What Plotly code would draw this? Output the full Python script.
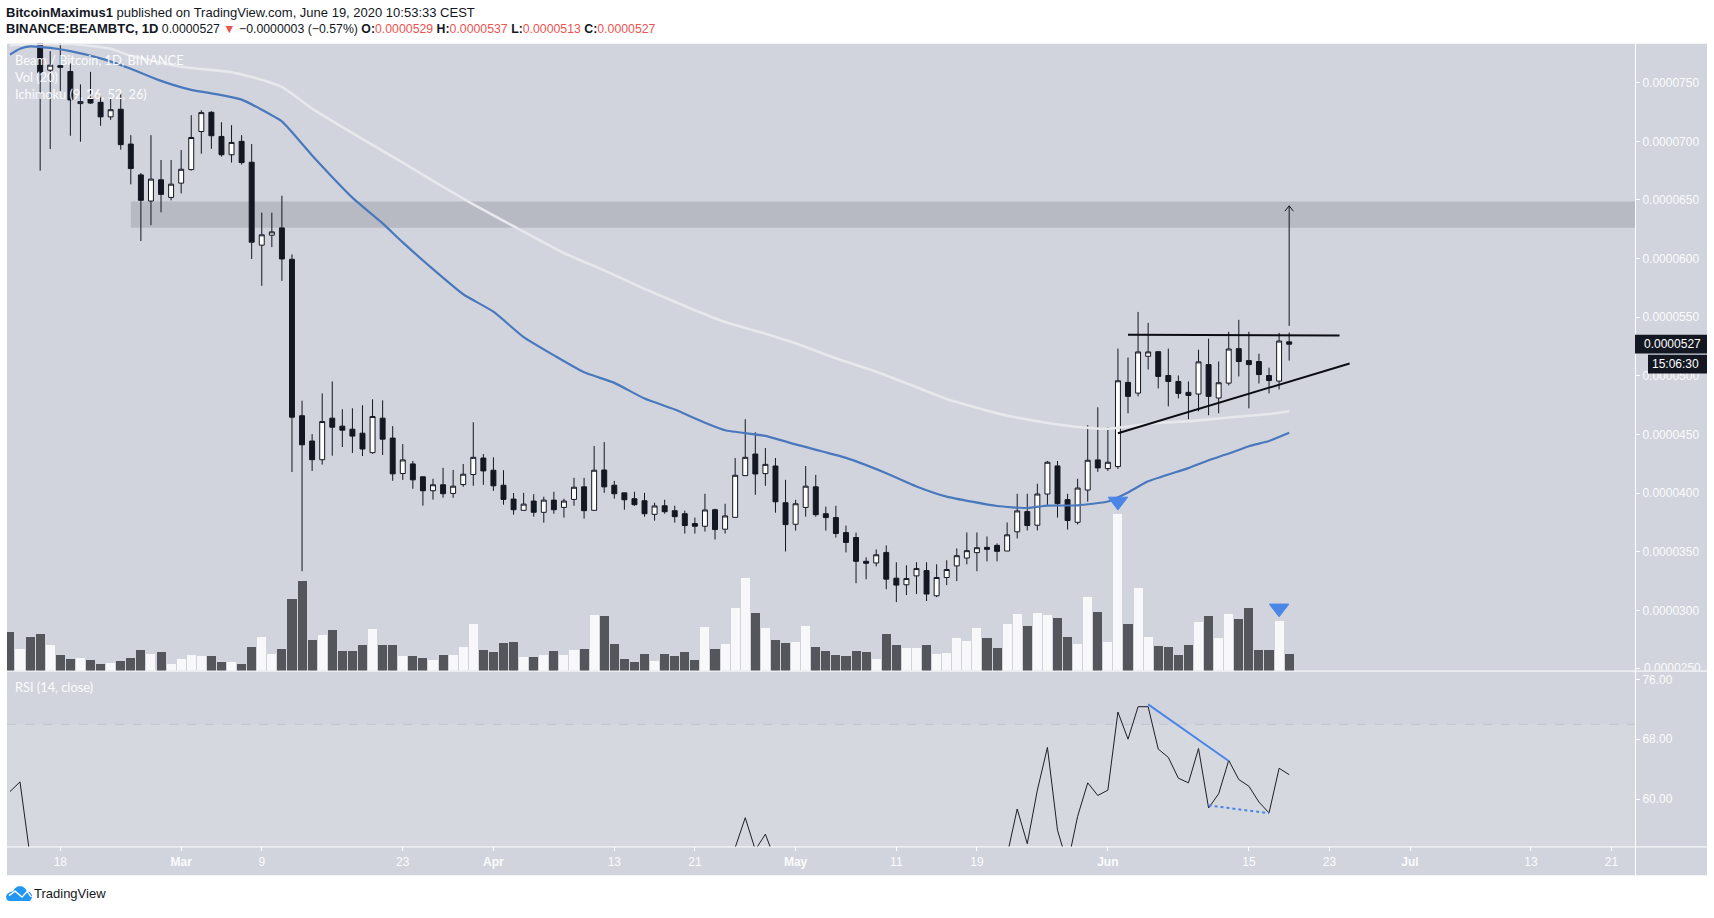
import pandas as pd
import plotly.graph_objects as go

W, H = 1714, 918

# All prices are in units of 1e-7 BTC
dates = pd.date_range("2020-02-13", "2020-06-19", freq="D").strftime("%Y-%m-%d").tolist()

opens = [
    860, 850, 870, 815, 760.7, 764.6, 759.6, 732.2, 736.7, 733.3, 720.9, 727.4, 697.7, 671.4, 649.1, 667.2, 652.2,
    664.4, 675.9, 708.4, 724.8, 704.2, 688.6, 700, 682.2, 611.5, 620, 626.2, 599.4, 466, 444.4, 428.5, 463.9, 457.1,
    454.5, 451.1, 434.5, 463.9, 446.9, 416.7, 424.9, 413.9, 402, 407.1, 399.7, 407.3, 415.8, 429.9,
    419.5, 406.7, 394.9, 385.3, 393.2, 383.6, 394, 387.8, 394.6, 405.3, 385.3, 419.7, 406.7, 400.2, 395.2, 393.5,
    381.9, 389.2, 385, 382.4, 374, 371.7, 385.8, 369.2, 379.3, 414.9, 433.3, 416.6, 423.1, 391.8,
    373.4, 387.8, 405.3, 382.4, 379.1, 366.3, 362.1, 341.8, 340.4, 349.4, 327.4, 321.8, 329.4, 333.9, 312.4, 328,
    337.9, 344.6, 349.2, 353.7, 355.4, 350.6, 367, 384.2, 372.6, 399.2, 423.2, 394.4, 375.1, 402.6, 428.3,
    420.9, 422.6, 494.4, 485.3, 516.7, 520.6, 500.3, 495.2, 485.9, 484.5, 509.6, 481.1, 493.8, 523.2, 513, 512.2,
    500.3, 495.5, 529,
]
closes = [
    850, 870, 815, 758.5, 765, 763.2, 735.3, 733.9, 732.7, 720.9, 727, 697.2, 676.8, 649.7, 667.8, 654.8, 663.5,
    676.2, 703.3, 724.5, 704.8, 688.6, 699.1, 681.9, 614, 620.3, 622.8, 599.7, 464.7, 441.2, 428.5, 461, 456.2, 453.7,
    448.6, 437.6, 465.3, 446, 416.4, 428.3, 411.3, 402, 407.1, 399.5, 405.9, 416.1, 430.5, 418.9,
    406.2, 394.6, 385.8, 390.6, 383.6, 394, 385.8, 393.2, 405, 385, 419.5, 405.3, 399.4, 394.3, 390.1, 382.4,
    389, 384.1, 379.9, 372.3, 371.7, 385.6, 368.9, 380.5, 415.2, 430.5, 416.3, 424.5, 392.6, 373.1,
    390.9, 405.9, 381.6, 379.1, 365.5, 357.9, 341.8, 340.1, 347.4, 326.6, 321.5, 327.1, 335.6, 313.9, 328, 334.8,
    346.6, 350.9, 353.4, 352, 350.3, 364.4, 384.8, 372.3, 399.2, 426.3, 391, 376.6, 404.3, 428, 421.5,
    426.3, 495.8, 482.5, 520.4, 520.4, 499.5, 495.2, 485, 483.3, 511.9, 482.5, 494.1, 522.9, 512.2, 509.6, 501.1,
    496, 529.7, 527,
]
highs = [
    880, 890, 890, 830, 777, 790, 766.4, 748.6, 759.3, 739.2, 736.4, 740.7, 705.3, 673, 705.3, 684.1, 684.1,
    692.6, 722.3, 726.5, 725.7, 716.3, 713.8, 705.3, 697.7, 639.2, 639.2, 653.6, 603.6, 478.8, 450.3, 485, 495.2, 471.5,
    472.3, 474.9, 480, 479.1, 457.1, 441.8, 427.4, 414, 412.2, 421.5, 419.7, 424.8, 460.4, 433.3,
    430.5, 419.5, 400, 400.2, 399.1, 396.9, 401.1, 395.2, 413, 413, 440.1, 443.5, 410.4, 400.2, 401.1, 400.2,
    391.8, 394.3, 389.2, 385, 379.1, 399.4, 386.7, 390.9, 429.9, 463, 451.9, 438.4, 429.9, 411.3,
    394.3, 423.1, 415.5, 388.4, 389.2, 372.3, 366.3, 345.2, 351.9, 355.3, 341, 338.4, 341, 341, 339.3, 342.7,
    352.8, 366.4, 366.4, 363, 357.1, 374.9, 399.4, 399.4, 407.9, 427.4, 427.4, 399.4, 412.2, 457.9, 473.2,
    456.2, 523.2, 515.6, 554.5, 545.2, 521.2, 523.2, 500.3, 495.2, 522.3, 531.7, 512.2, 537.6, 547.8, 537.6, 518.9,
    507, 536.7, 537,
]
lows = [
    810, 820, 810, 675, 693.5, 743, 704.8, 699.7, 732, 713.3, 718.3, 692.9, 663.3, 615, 628.5, 639.5, 649.7,
    655.6, 675.1, 689.5, 693.7, 687, 681.9, 680.2, 599.7, 576.8, 609.8, 581, 418, 333.4, 418.9, 424.3, 431.9, 439.3,
    434.2, 431.6, 433.6, 432.5, 410.5, 411.3, 403.7, 389.3, 394.4, 396.1, 396, 405.3, 406.2, 407,
    401.9, 390.1, 381.6, 385.3, 379.9, 374.8, 382.4, 379.1, 389.2, 378.2, 385.3, 400.2, 395.2, 385.8, 389.2, 379.9,
    376.5, 382.4, 374.8, 365.5, 365.5, 367.2, 360.4, 365.5, 379.3, 414.9, 398.5, 406.2, 383.3, 350.2,
    368, 379.9, 379.9, 368, 362.1, 349.4, 323.1, 326.5, 337.5, 318, 307, 313, 313.9, 307.9, 311.3, 321.5,
    324.9, 339.3, 333.4, 341.8, 341.8, 350.6, 361.3, 368.1, 368.1, 389, 379.1, 368.9, 373.2, 392.7, 418.1,
    418.9, 420.6, 468.1, 482.5, 505.4, 489.3, 474, 480.8, 463, 469.8, 466.4, 468.1, 491.8, 499.5, 472.3, 493.5,
    485, 488.4, 513,
]
volumes = [
    39.3, 22.3, 34.3, 37.3, 26.3, 16.3, 12.3, 13.3, 11.3, 7.3, 8.3, 10.3, 13.3, 21.3, 17.3, 19.3, 7.3,
    12.3, 16.3, 15.3, 15.3, 9.3, 9.3, 7.3, 24.3, 34.3, 17.3, 22.3, 72.3, 90.3, 31.3, 36.3, 41.3, 20.3, 20.3, 26.3,
    42.3, 26.3, 26.3, 15.3, 15.3, 13.3, 11.3, 16.3, 16.3, 24.3, 47.3, 21.3,
    19.3, 28.3, 29.3, 14.3, 14.3, 16.3, 20.3, 16.3, 21.3, 22.3, 56.3, 55.3, 27.3, 12.3, 9.3, 17.3, 10.3, 17.3, 15.3,
    19.3, 11.3, 44.3, 22.3, 27.3, 63.3, 93.3, 58.3, 43.3, 31.3, 28.3,
    29.3, 45.3, 24.3, 20.3, 16.3, 15.3, 20.3, 19.3, 12.3, 37.3, 26.3, 23.3, 23.3, 26.3, 17.3, 18.3, 33.3, 30.3, 43.3,
    33.3, 23.3, 47.3, 57.3, 45.3, 58.3, 56.3, 53.3, 34.3, 27.3, 74.3, 59.3,
    29.3, 158.3, 47.3, 83.3, 34.3, 25.3, 24.3, 16.3, 26.3, 49.3, 55.3, 33.3, 57.3, 52.3, 63.3, 21.3, 21.3, 50.3, 17.3,
]
assert len(dates) == len(opens) == len(closes) == len(highs) == len(lows) == len(volumes)

ma_blue_dates = ["2020-02-13", "2020-02-14", "2020-02-15", "2020-02-17", "2020-02-19", "2020-02-22", "2020-02-25",
                 "2020-02-28", "2020-03-02", "2020-03-05", "2020-03-07", "2020-03-09", "2020-03-11", "2020-03-14",
                 "2020-03-18", "2020-03-21", "2020-03-23", "2020-03-26", "2020-03-29", "2020-04-01", "2020-04-04",
                 "2020-04-07", "2020-04-10", "2020-04-13", "2020-04-16", "2020-04-19", "2020-04-22", "2020-04-24",
                 "2020-04-28", "2020-05-01", "2020-05-06", "2020-05-10", "2020-05-13", "2020-05-16", "2020-05-21",
                 "2020-05-24", "2020-05-26", "2020-05-29", "2020-06-01", "2020-06-03", "2020-06-05", "2020-06-09",
                 "2020-06-11", "2020-06-13", "2020-06-15", "2020-06-17", "2020-06-19"]
ma_blue = [774, 779, 781, 779.7, 777, 770.8, 761.9, 751.6, 743.9, 739.5, 735.6, 727, 717, 688, 652, 630, 613.8, 591,
           569.6, 554.7, 533, 517.5, 503, 494, 480.6, 471.3, 460, 453.6, 448.8, 441.5, 430, 417, 405.7, 397, 389,
           387.3, 389.3, 389.6, 392.8, 400.5, 410, 421.3, 428, 433.7, 440, 444.4, 451.4]

ma_white_dates = ["2020-02-13", "2020-02-16", "2020-02-19", "2020-02-23", "2020-02-25", "2020-03-01", "2020-03-06",
                  "2020-03-08", "2020-03-11", "2020-03-14", "2020-03-19", "2020-03-23", "2020-03-29", "2020-04-03",
                  "2020-04-08", "2020-04-12", "2020-04-16", "2020-04-21", "2020-04-24", "2020-04-28", "2020-05-01",
                  "2020-05-05", "2020-05-09", "2020-05-13", "2020-05-16", "2020-05-21", "2020-05-25", "2020-05-29",
                  "2020-06-01", "2020-06-05", "2020-06-10", "2020-06-13", "2020-06-17", "2020-06-19"]
ma_white = [782, 783, 783, 779, 773, 763.7, 759, 755, 746.5, 728, 702, 681.8, 651.2, 627.6, 604.8, 590, 574.2, 556,
            546, 536, 527.8, 515, 503.5, 490.3, 480.3, 468, 461.3, 456.4, 454.9, 459, 462, 464.5, 467.4, 469.8]

rsi_dates = ["2020-02-13", "2020-02-14", "2020-02-15", "2020-02-16",
             "2020-04-25", "2020-04-26", "2020-04-27", "2020-04-28", "2020-04-29", "2020-04-30",
             "2020-05-22", "2020-05-23", "2020-05-24", "2020-05-25", "2020-05-26", "2020-05-27", "2020-05-28",
             "2020-05-29", "2020-05-30", "2020-05-31", "2020-06-01", "2020-06-02", "2020-06-03", "2020-06-04",
             "2020-06-05", "2020-06-06", "2020-06-07", "2020-06-08", "2020-06-09", "2020-06-10", "2020-06-11",
             "2020-06-12", "2020-06-13", "2020-06-14", "2020-06-15", "2020-06-16", "2020-06-17", "2020-06-18",
             "2020-06-19"]
rsi = [61.0, 62.3, 52.3, None,
       53.5, 57.5, 53.2, 55.3, 51.7, None,
       52.5, 58.67, 54.02, 61.19, 66.91, 55.83, 51.27, 57.69, 62.17, 60.48, 61.19, 71.65, 68.01, 72.36, 72.36,
       66.69, 65.58, 62.79, 62.17, 66.77, 58.8, 60.71, 65.18, 62.61, 61.72, 59.6, 58.14, 64.12, 63.27]

price_ticks = [250, 300, 350, 400, 450, 500, 550, 600, 650, 700, 750]
rsi_ticks = [60, 68, 76]
time_tick_dates = ["2020-02-18", "2020-03-01", "2020-03-09", "2020-03-23", "2020-04-01", "2020-04-13", "2020-04-21",
                   "2020-05-01", "2020-05-11", "2020-05-19", "2020-06-01", "2020-06-15", "2020-06-23", "2020-07-01",
                   "2020-07-13", "2020-07-21"]
time_tick_labels = ["18", "<b>Mar</b>", "9", "23", "<b>Apr</b>", "13", "21", "<b>May</b>", "11", "19", "<b>Jun</b>",
                    "15", "23", "<b>Jul</b>", "13", "21"]

res_zone_dates = ["2020-02-25", "2020-07-23 08:00"]
res_zone_prices = [626.3, 648.8]
flat_line_dates, flat_line_prices = ["2020-06-03", "2020-06-24"], [535, 534.4]
rise_line_dates, rise_line_prices = ["2020-06-02", "2020-06-25"], [451, 510.6]
arrow_dates = ["2020-06-19", "2020-06-19", None, "2020-06-18 14:00", "2020-06-19", "2020-06-19 10:00"]
arrow_prices = [542.6, 645, None, 640.5, 645, 640.5]
signal_dates, signal_prices = ["2020-06-02", "2020-06-18"], [392.9, 301.7]
rsi_fall_dates, rsi_fall = ["2020-06-05", "2020-06-13"], [72.67, 65.09]
rsi_low_dates, rsi_low = ["2020-06-11", "2020-06-17"], [59.15, 58.1]
last_price = "0.0000527"
countdown = "15:06:30"

BG = "#d1d4dc"
INK = "#131722"
TXT = "#fbfbfd"
RED = "#ef5350"
BLUE = "#4a86e8"
VOL_UP, VOL_DN = "#f8f8fb", "#55565b"
FONT = "Liberation Sans"
HEAD_FONT = "Liberation Sans"
LEGEND_FONT = "Lato"


def px(x):
    return x / W


def py(y):
    return 1 - y / H


X_DOM = [px(7), px(1635)]
MAIN_DOM = [py(675), py(44)]
RSI_DOM = [py(852), py(676)]
X_RANGE = ["2020-02-12 17:00", "2020-07-23 08:00"]

fig = go.Figure()
vol_colors = [VOL_UP if c >= o else VOL_DN for o, c in zip(opens, closes)]
fig.add_trace(go.Bar(x=dates, y=volumes, marker=dict(color=vol_colors, line_width=0), width=0.9 * 86400000,
                     xaxis="x", yaxis="y"))
fig.add_trace(go.Scatter(x=ma_white_dates, y=ma_white, mode="lines",
                         line=dict(color="#e6e8ec", width=2.6, shape="spline", smoothing=0.5),
                         xaxis="x", yaxis="y2"))
fig.add_trace(go.Scatter(x=ma_blue_dates, y=ma_blue, mode="lines",
                         line=dict(color="#4a78bd", width=2.2, shape="spline", smoothing=0.5),
                         xaxis="x", yaxis="y2"))
fig.add_trace(go.Candlestick(x=dates, open=opens, high=highs, low=lows, close=closes, whiskerwidth=0,
                             increasing=dict(line=dict(color=INK, width=1), fillcolor="#ffffff"),
                             decreasing=dict(line=dict(color=INK, width=1), fillcolor=INK),
                             xaxis="x", yaxis="y2"))
fig.add_trace(go.Scatter(x=flat_line_dates, y=flat_line_prices, mode="lines", line=dict(color="#0b0d12", width=2),
                         xaxis="x", yaxis="y2"))
fig.add_trace(go.Scatter(x=rise_line_dates, y=rise_line_prices, mode="lines", line=dict(color="#0b0d12", width=2),
                         xaxis="x", yaxis="y2"))
fig.add_trace(go.Scatter(x=arrow_dates, y=arrow_prices, mode="lines", line=dict(color=INK, width=1),
                         xaxis="x", yaxis="y2"))
fig.add_trace(go.Scatter(x=signal_dates, y=signal_prices, mode="markers",
                         marker=dict(symbol="triangle-down", size=17, color=BLUE, line=dict(color=BLUE, width=1)),
                         xaxis="x", yaxis="y2"))
fig.add_trace(go.Scatter(x=rsi_dates, y=rsi, mode="lines", line=dict(color="#1c1f26", width=1),
                         connectgaps=False, xaxis="x2", yaxis="y3"))
fig.add_trace(go.Scatter(x=rsi_fall_dates, y=rsi_fall, mode="lines", line=dict(color=BLUE, width=2),
                         xaxis="x2", yaxis="y3"))
fig.add_trace(go.Scatter(x=rsi_low_dates, y=rsi_low, mode="lines", line=dict(color=BLUE, width=2, dash="dot"),
                         xaxis="x2", yaxis="y3"))
# the lowest price label sits on the pane edge and is cut by it
fig.add_trace(go.Scatter(x=[0], y=[price_ticks[0]], mode="text", text=["0.0000250"], textposition="middle right",
                         textfont=dict(family=FONT, size=12, color=TXT), cliponaxis=True, xaxis="x3", yaxis="y4"))

shapes = [
    dict(type="rect", xref="paper", yref="paper", x0=px(7), x1=px(1707), y0=py(881), y1=py(44), fillcolor=BG,
         line_width=0, layer="below"),
    dict(type="rect", xref="x2 domain", yref="y3", x0=0, x1=1, y0=30, y1=70, fillcolor="rgba(255,255,255,0.1)",
         line_width=0, layer="below"),
    dict(type="line", xref="x2 domain", yref="y3", x0=0, x1=1, y0=70, y1=70,
         line=dict(color="#c2c5cb", width=1, dash="dash"), layer="below"),
    dict(type="rect", xref="x", yref="y2", x0=res_zone_dates[0], x1=res_zone_dates[1], y0=res_zone_prices[0],
         y1=res_zone_prices[1], fillcolor="#b7bac3", line_width=0, layer="below"),
    dict(type="line", xref="paper", yref="paper", x0=px(7), x1=px(1707), y0=py(675.5), y1=py(675.5),
         line=dict(color="#ffffff", width=1), layer="below"),
    dict(type="line", xref="paper", yref="paper", x0=px(7), x1=px(1707), y0=py(852.5), y1=py(852.5),
         line=dict(color="#ffffff", width=1), layer="below"),
    dict(type="line", xref="paper", yref="paper", x0=px(1635.5), x1=px(1635.5), y0=py(881), y1=py(44),
         line=dict(color="#ffffff", width=1), layer="below"),
    dict(type="rect", xref="paper", yref="paper", x0=px(1635), x1=px(1707), y0=py(355.7), y1=py(337),
         fillcolor=INK, line_width=0, layer="above"),
    dict(type="rect", xref="paper", yref="paper", x0=px(1648), x1=px(1707), y0=py(376), y1=py(357),
         fillcolor=INK, line_width=0, layer="above"),
]


def paper_path(points, close):
    parts = [f"{'M' if i == 0 else 'L'} {px(a):.5f} {py(b):.5f}" for i, (a, b) in enumerate(points)]
    return " ".join(parts) + (" Z" if close else "")


logo_cloud = [(6, 903), (7, 900), (10, 898), (13, 897), (15, 894), (18, 892), (22, 892), (25, 894), (27, 897),
              (30, 898), (32, 901), (32, 904), (30, 907), (9, 907), (7, 906)]
logo_zigzag = [(9, 901.5), (15, 897), (22, 903), (27, 897.5), (31.5, 903)]
shapes.append(dict(type="path", xref="paper", yref="paper", path=paper_path(logo_cloud, True), fillcolor="#2196f3",
                   line_width=0, layer="above"))
shapes.append(dict(type="path", xref="paper", yref="paper", path=paper_path(logo_zigzag, False),
                   line=dict(color="#ffffff", width=1.4), layer="above"))


def note(x, y, text, size=13, color=TXT, family=HEAD_FONT):
    return dict(xref="paper", yref="paper", x=px(x), y=py(y), text=text, showarrow=False, xanchor="left",
                yanchor="middle", align="left", font=dict(family=family, size=size, color=color), borderpad=0,
                borderwidth=0)


def red(t):
    return f'<span style="color:{RED}">{t}</span>'


header1 = "<b>BitcoinMaximus1</b> published on TradingView.com, June 19, 2020 10:53:33 CEST"
header2 = ('<span style="font-size:13px"><b>BINANCE:BEAMBTC, 1D</b></span> 0.0000527 ' + red("▼")
           + " −0.0000003 (−0.57%) <b>O:</b>" + red("0.0000529") + " <b>H:</b>" + red("0.0000537")
           + " <b>L:</b>" + red("0.0000513") + " <b>C:</b>" + red("0.0000527"))
annotations = [
    note(6, 12.5, header1, 13, INK),
    note(6, 29, header2, 12.3, INK),
    note(15, 60, "Beam / Bitcoin, 1D, BINANCE", 12.8, TXT, LEGEND_FONT),
    note(15, 77.5, "Vol (20)", 12.8, TXT, LEGEND_FONT),
    note(15, 95, "Ichimoku (9, 26, 52, 26)", 12.8, TXT, LEGEND_FONT),
    note(15, 692, "RSI (14, close)", 12.8, TXT, LEGEND_FONT),
    note(1644, 346.3, last_price, 12, "#ffffff", FONT),
    note(1652, 366.5, countdown, 12, "#ffffff", FONT),
    note(34, 899.5, "TradingView", 13, INK),
]

fig.update_layout(
    width=W, height=H, autosize=False, margin=dict(l=0, r=0, t=0, b=0, pad=0),
    paper_bgcolor="#ffffff", plot_bgcolor="rgba(0,0,0,0)", showlegend=False, hovermode=False,
    bargap=0, shapes=shapes, annotations=annotations,
    xaxis=dict(domain=X_DOM, range=X_RANGE, type="date", anchor="y", showgrid=False, showticklabels=False,
               ticks="", zeroline=False, showline=False, rangeslider=dict(visible=False)),
    yaxis=dict(domain=MAIN_DOM, range=[0, 631], anchor="x", visible=False, fixedrange=True),
    yaxis2=dict(domain=MAIN_DOM, range=[248.6, 783.3], overlaying="y", side="right", anchor="x", showgrid=False,
                zeroline=False, showline=False, tickmode="array", tickvals=price_ticks,
                ticktext=[" " if v == price_ticks[0] else f"0.0000{v}" for v in price_ticks],
                ticks="outside", ticklen=4, tickwidth=1, tickcolor="#ffffff",
                tickfont=dict(family=FONT, size=12, color=TXT)),
    xaxis2=dict(domain=X_DOM, range=X_RANGE, type="date", anchor="y3", showgrid=False, zeroline=False,
                showline=False, tickmode="array", tickvals=time_tick_dates, ticktext=time_tick_labels,
                ticks="outside", ticklen=4, tickwidth=1, tickcolor="#ffffff",
                tickfont=dict(family=FONT, size=12, color=TXT), tickangle=0),
    yaxis3=dict(domain=RSI_DOM, range=[53.66, 77.06], side="right", anchor="x2", showgrid=False, zeroline=False,
                showline=False, tickmode="array", tickvals=rsi_ticks, ticktext=[f"{v}.00" for v in rsi_ticks],
                ticks="outside", ticklen=4, tickwidth=1, tickcolor="#ffffff",
                tickfont=dict(family=FONT, size=12, color=TXT)),
    xaxis3=dict(domain=[px(1644), px(1707)], range=[0, 1], anchor="y4", visible=False),
    yaxis4=dict(domain=MAIN_DOM, range=[248.6, 783.3], anchor="x3", visible=False),
)

fig.write_html("out.html", config=dict(displayModeBar=False),
               post_script="document.body.style.margin='0';document.body.style.overflow='hidden';")
